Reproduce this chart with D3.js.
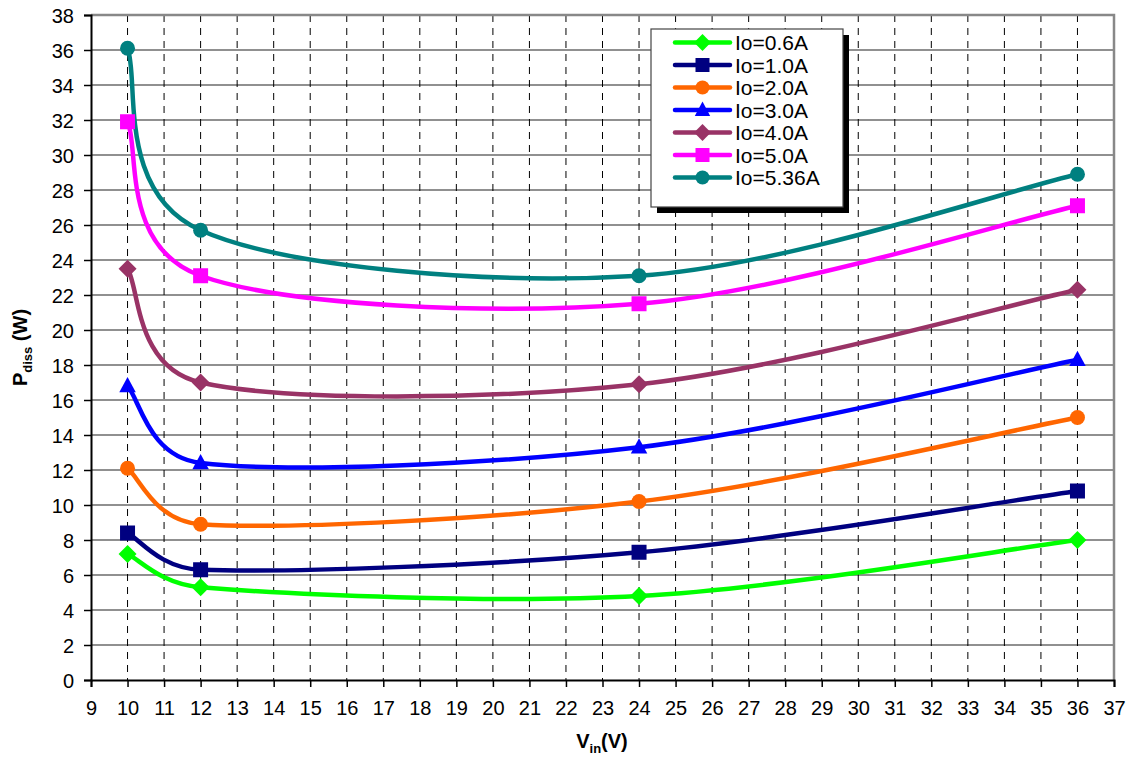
<!DOCTYPE html>
<html><head><meta charset="utf-8">
<script src="https://cdn.jsdelivr.net/npm/d3@7"></script>
<style>body{margin:0;background:#fff}svg{display:block}text{font-family:"Liberation Sans",Arial,sans-serif}</style>
</head><body><svg id="c" width="1130" height="759"></svg>
<script>
const vin = [10, 12, 24, 36];
const seriesNames = ["Io=0.6A","Io=1.0A","Io=2.0A","Io=3.0A","Io=4.0A","Io=5.0A","Io=5.36A"];
const io06 = [7.2, 5.3, 4.8, 8.0];
const io10 = [8.4, 6.3, 7.3, 10.8];
const io20 = [12.1, 8.9, 10.2, 15.0];
const io30 = [16.8, 12.4, 13.3, 18.3];
const io40 = [23.5, 17.0, 16.9, 22.3];
const io50 = [31.9, 23.1, 21.5, 27.1];
const io536 = [36.1, 25.7, 23.1, 28.9];
const colors = ["#00FF00","#000080","#FF6600","#0000FF","#993366","#FF00FF","#008080"];
const markers = ["diamond","square","circle","triangle","diamond","square","circle"];
const xTicks = d3.range(9, 38, 1);
const yTicks = d3.range(0, 39, 2);
const allSeries = [io06, io10, io20, io30, io40, io50, io536];

const svg = d3.select("#c");
const L = 91, R = 1114, T = 15, B = 680;
const x = d3.scaleLinear().domain([9, 37]).range([L, R]);
const y = d3.scaleLinear().domain([0, 38]).range([B, T]);
const FONT = '"Liberation Sans",Arial,sans-serif';

// grid
svg.append("g").selectAll("line").data(yTicks.filter(d => d > 0 && d < 38)).join("line")
  .attr("x1", L).attr("x2", R).attr("y1", d => y(d)).attr("y2", d => y(d))
  .attr("stroke", "#222").attr("stroke-width", 1.2);
svg.append("g").selectAll("line").data(xTicks.filter(d => d > 9 && d < 37)).join("line")
  .attr("x1", d => x(d)).attr("x2", d => x(d)).attr("y1", T).attr("y2", B)
  .attr("stroke", "#000").attr("stroke-width", 1).attr("stroke-dasharray", "7,6");

// frame top/right
svg.append("path").attr("d", `M${L},${T}H${R}V${B}`).attr("fill", "none")
  .attr("stroke", "#888").attr("stroke-width", 2.5);

// axes
const xAxis = d3.axisBottom(x).tickValues(xTicks).tickSize(7).tickPadding(14).tickFormat(d3.format("d"));
const gx = svg.append("g").attr("transform", `translate(0,${B})`).call(xAxis);
const yAxis = d3.axisLeft(y).tickValues(yTicks).tickSize(7).tickPadding(10).tickFormat(d3.format("d"));
const gy = svg.append("g").attr("transform", `translate(${L},0)`).call(yAxis);
[gx, gy].forEach(g => {
  g.select(".domain").attr("stroke", "#000").attr("stroke-width", 2);
  g.selectAll(".tick line").attr("stroke", "#000").attr("stroke-width", 1.5);
  g.selectAll("text").attr("font-size", 20).attr("fill", "#000").attr("font-family", FONT);
});
gy.selectAll("text").attr("dy", "0.36em");
gx.selectAll("text").attr("dy", "0.71em");

// axis titles
const yt = svg.append("text").attr("transform", `translate(27,${y(19)}) rotate(-90)`)
  .attr("text-anchor", "middle").attr("font-size", 20).attr("font-weight", "bold");
yt.append("tspan").text("P");
yt.append("tspan").text("diss").attr("font-size", 13).attr("dy", 5);
yt.append("tspan").text(" (W)").attr("font-size", 20).attr("dy", -5);
const xt = svg.append("text").attr("x", 602).attr("y", 748)
  .attr("text-anchor", "middle").attr("font-size", 20).attr("font-weight", "bold");
xt.append("tspan").text("V");
xt.append("tspan").text("in").attr("font-size", 13).attr("dy", 5);
xt.append("tspan").text("(V)").attr("font-size", 20).attr("dy", -5);

function drawMarker(g, type, cx, cy, color, s) {
  if (type === "circle") g.append("circle").attr("cx", cx).attr("cy", cy).attr("r", s * 0.5).attr("fill", color);
  else if (type === "square") g.append("rect").attr("x", cx - s / 2).attr("y", cy - s / 2).attr("width", s).attr("height", s).attr("fill", color);
  else if (type === "diamond") g.append("path").attr("d", `M${cx},${cy - s * 0.6}L${cx + s * 0.6},${cy}L${cx},${cy + s * 0.6}L${cx - s * 0.6},${cy}Z`).attr("fill", color);
  else if (type === "triangle") g.append("path").attr("d", `M${cx},${cy - s * 0.6}L${cx + s * 0.55},${cy + s * 0.42}L${cx - s * 0.55},${cy + s * 0.42}Z`).attr("fill", color);
}

// Excel-style smoothed line (Bezier with limited tangents), computed in screen space
function excelSmooth(pts) {
  const p = d3.path();
  const n = pts.length;
  const dist = (a, b) => Math.hypot(b[0] - a[0], b[1] - a[1]);
  p.moveTo(pts[0][0], pts[0][1]);
  for (let i = 0; i < n - 1; i++) {
    const P0 = pts[Math.max(0, i - 1)], P1 = pts[i], P2 = pts[i + 1], P3 = pts[Math.min(n - 1, i + 2)];
    const d12 = dist(P1, P2), d02 = dist(P0, P2), d13 = dist(P1, P3);
    const f1 = (d02 / 6 < d12 / 2) ? 1 / 6 : d12 / (2 * d02);
    const f2 = (d13 / 6 < d12 / 2) ? 1 / 6 : d12 / (2 * d13);
    const c1 = [P1[0] + f1 * (P2[0] - P0[0]), P1[1] + f1 * (P2[1] - P0[1])];
    const c2 = [P2[0] - f2 * (P3[0] - P1[0]), P2[1] - f2 * (P3[1] - P1[1])];
    p.bezierCurveTo(c1[0], c1[1], c2[0], c2[1], P2[0], P2[1]);
  }
  return p.toString();
}

const plot = svg.append("g");
allSeries.forEach((vals, i) => {
  const pts = vin.map((v, j) => [x(v), y(vals[j])]);
  plot.append("path").attr("d", excelSmooth(pts)).attr("fill", "none")
    .attr("stroke", colors[i]).attr("stroke-width", 4.5).attr("stroke-linejoin", "round");
});
allSeries.forEach((vals, i) => {
  vin.forEach((v, j) => drawMarker(plot, markers[i], x(v), y(vals[j]), colors[i], 15));
});

// legend
const lg = svg.append("g");
lg.append("rect").attr("x", 657).attr("y", 35).attr("width", 192).attr("height", 178).attr("fill", "#000");
lg.append("rect").attr("x", 651).attr("y", 29).attr("width", 192).attr("height", 178).attr("fill", "#fff")
  .attr("stroke", "#444").attr("stroke-width", 1.2);
seriesNames.forEach((n, i) => {
  const cy = 42.5 + i * 22.5;
  lg.append("line").attr("x1", 675).attr("x2", 730).attr("y1", cy).attr("y2", cy)
    .attr("stroke", colors[i]).attr("stroke-width", 4.5).attr("stroke-linecap", "round");
  drawMarker(lg, markers[i], 702.5, cy, colors[i], 14);
  lg.append("text").attr("x", 735).attr("y", cy).attr("dy", "0.36em").attr("font-size", 21).attr("font-family", FONT).text(n);
});
</script></body></html>
